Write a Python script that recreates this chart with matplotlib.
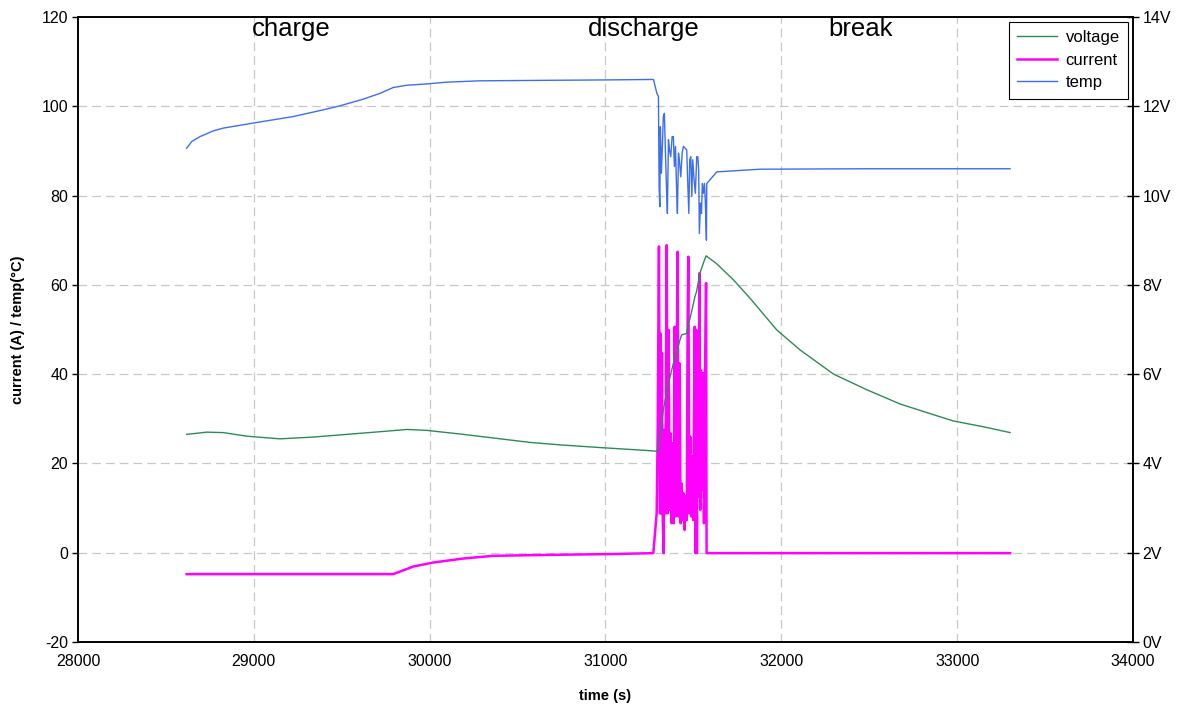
import matplotlib
matplotlib.use("Agg")
import matplotlib.pyplot as plt

plt.rcParams['font.family'] = ['Liberation Sans', 'DejaVu Sans']
plt.rcParams['axes.unicode_minus'] = False

# temperature (deg C) -- left axis
temp_t = [28618, 28647, 28694, 28770, 28826, 28991, 29225, 29395, 29490, 29623,
          29718, 29793, 29870, 29983, 30097, 30287, 31000, 31273, 31292, 31301,
          31305, 31309, 31312, 31318, 31324, 31329, 31335, 31341, 31348, 31352,
          31358, 31364, 31371, 31379, 31386, 31392, 31398, 31405, 31409, 31415,
          31420, 31428, 31436, 31443, 31453, 31462, 31468, 31474, 31479, 31485,
          31491, 31496, 31504, 31511, 31519, 31525, 31530, 31534, 31540, 31546,
          31551, 31557, 31563, 31568, 31574, 31576, 31633, 31879, 32500, 33301]
temp_v = [90.6, 92.1, 93.2, 94.5, 95.1, 96.2, 97.7, 99.2, 100.1, 101.6,
          102.9, 104.2, 104.7, 105.0, 105.4, 105.7, 105.9, 106.0, 102.9, 102.2,
          82.0, 77.5, 95.4, 85.0, 91.7, 97.7, 98.4, 89.5, 80.5, 76.0,
          92.5, 90.2, 88.7, 93.2, 93.2, 86.5, 91.0, 80.5, 76.0, 89.5,
          88.0, 84.2, 89.5, 91.0, 90.6, 90.2, 82.7, 76.0, 88.0, 88.7,
          79.8, 88.0, 83.5, 80.5, 88.7, 88.7, 85.7, 71.5, 78.3, 76.0,
          82.7, 80.5, 82.7, 78.3, 70.0, 82.7, 85.3, 85.9, 86.0, 86.0]

# current (A) -- left axis
curr_t = [28618, 29793, 29907, 30021, 30192, 30362, 30666, 31045, 31272, 31291,
          31297, 31304, 31310, 31314, 31318, 31321, 31325, 31331, 31335, 31340,
          31348, 31354, 31359, 31365, 31371, 31376, 31382, 31388, 31393, 31399,
          31405, 31410, 31416, 31422, 31427, 31433, 31439, 31445, 31450, 31456,
          31462, 31467, 31471, 31477, 31482, 31488, 31494, 31499, 31507, 31511,
          31517, 31520, 31524, 31530, 31534, 31539, 31543, 31549, 31555, 31560,
          31566, 31572, 31575, 33301]
curr_v = [-4.8, -4.8, -3.1, -2.2, -1.3, -0.7, -0.5, -0.3, -0.1, 8.8,
          27.5, 68.6, 8.8, 49.1, 8.8, 44.7, 8.8, -0.1, 27.5, 8.8,
          68.9, 8.8, 49.9, 9.6, 26.7, 6.6, 24.5, 6.6, 50.6, 8.1,
          42.4, 67.4, 8.1, 42.4, 6.6, 15.5, 7.3, 13.3, 5.1, 12.6,
          7.3, 50.6, 66.3, 8.8, 26.0, 8.1, 21.5, 7.3, 50.6, -0.1,
          49.9, -0.1, 38.7, 12.6, 62.6, 9.6, 40.9, 14.0, 40.2, 6.6,
          39.4, 60.4, -0.1, -0.1]

# voltage (V) -- right axis
volt_t = [28618, 28732, 28826, 28960, 29149, 29338, 29528, 29718, 29870, 29983,
          30192, 30382, 30571, 30760, 30988, 31235, 31297, 31329, 31357, 31367,
          31386, 31424, 31433, 31462, 31471, 31481, 31509, 31518, 31537, 31556,
          31572, 31633, 31728, 31822, 31974, 32107, 32297, 32486, 32676, 32866,
          32979, 33150, 33301]
volt_v = [4.65, 4.70, 4.69, 4.61, 4.55, 4.59, 4.65, 4.71, 4.76, 4.74,
          4.65, 4.56, 4.47, 4.41, 4.35, 4.29, 4.27, 5.20, 5.79, 5.94,
          6.24, 6.77, 6.88, 6.91, 7.14, 7.25, 7.74, 7.85, 8.26, 8.48,
          8.65, 8.47, 8.11, 7.70, 6.99, 6.54, 6.00, 5.65, 5.33, 5.09,
          4.95, 4.82, 4.69]

phase_labels = ["charge", "discharge", "break"]
phase_pos = [29212, 31219, 32448]

left_ticks = list(range(-20, 121, 20))
right_ticks = list(range(0, 15, 2))
x_ticks = list(range(28000, 34001, 1000))

fig = plt.figure(figsize=(11.78, 7.04), dpi=100)
ax = fig.add_axes([0.0662, 0.0881, 0.8956, 0.8878])
ax2 = ax.twinx()

grid_style = dict(color="#c8c8c8", linestyle=(0, (7, 4)), linewidth=0.9)
for x in x_ticks[1:-1]:
    ax.axvline(x, zorder=0, **grid_style)
for y in left_ticks[1:-1]:
    ax.axhline(y, zorder=0, **grid_style)

l_temp, = ax.plot(temp_t, temp_v, color="#3d6ef0", lw=1.0, label="temp")
l_curr, = ax.plot(curr_t, curr_v, color="#ff00ff", lw=1.8, label="current")
l_volt, = ax2.plot(volt_t, volt_v, color="#2e8b57", lw=1.0, label="voltage")

ax.set_xlim(28000, 34000)
ax.set_ylim(-20, 120)
ax2.set_ylim(0, 14)
ax.set_xticks(x_ticks)
ax.set_yticks(left_ticks)
ax2.set_yticks(right_ticks)
ax2.set_yticklabels(["{}V".format(v) for v in right_ticks])

ax.tick_params(axis="x", length=0, pad=9, labelsize=11.5)
ax.tick_params(axis="y", direction="out", length=4, width=1, labelsize=11.5, pad=3)
ax2.tick_params(axis="y", direction="inout", length=8, width=1, labelsize=11.5, pad=3)

for a in (ax, ax2):
    for s in a.spines.values():
        s.set_linewidth(1.2)
        s.set_color("black")

ax.set_xlabel("time (s)", fontweight="bold", fontsize=10.5, labelpad=14)
ax.set_ylabel("current (A) / temp(\u00b0C)", fontweight="bold", fontsize=10.5, labelpad=12)

for name, pos in zip(phase_labels, phase_pos):
    ax.text(pos, 1.0, name, transform=ax.get_xaxis_transform(),
            ha="center", va="top", fontsize=18.5)

leg = ax2.legend(handles=[l_volt, l_curr, l_temp], loc="upper right",
                 bbox_to_anchor=(0.9953, 0.992), borderaxespad=0, fontsize=12,
                 frameon=True, fancybox=False, framealpha=1, edgecolor="black",
                 handlelength=2.4, borderpad=0.5, labelspacing=0.45,
                 handletextpad=0.5)
leg.get_frame().set_linewidth(0.8)

fig.savefig("out.png", dpi=100)
